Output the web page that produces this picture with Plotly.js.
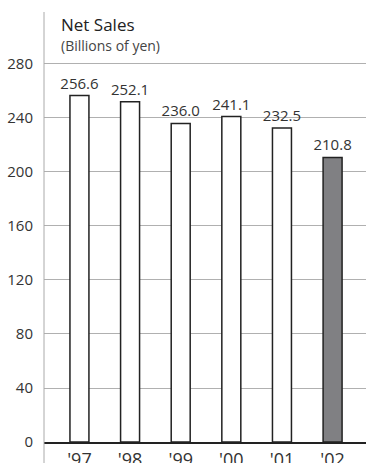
<!DOCTYPE html>
<html><head><meta charset="utf-8">
<script src="https://cdn.plot.ly/plotly-3.0.1.min.js"></script>
<style>html,body{margin:0;padding:0;background:#fff;}#c{width:366px;height:463px;}</style>
</head><body><div id="c"></div>
<script>
const years = ["'97", "'98", "'99", "'00", "'01", "'02"];
const netSales = [256.6, 252.1, 236.0, 241.1, 232.5, 210.8];
const valueLabels = ["256.6", "252.1", "236.0", "241.1", "232.5", "210.8"];
const yTicks = [0, 40, 80, 120, 160, 200, 240, 280];
const barColors = ["#ffffff", "#ffffff", "#ffffff", "#ffffff", "#ffffff", "#808083"];

const FONT = "Open Sans, Liberation Sans, sans-serif";
const trace = {
  type: 'bar',
  x: years.map((_, i) => i),
  y: netSales,
  width: 0.375,
  marker: {color: barColors, line: {color: '#222', width: 1.5}},
  text: valueLabels,
  textposition: 'outside',
  constraintext: 'none',
  textfont: {family: FONT, size: 15, color: '#333'},
  cliponaxis: false,
  hoverinfo: 'none'
};
const layout = {
  width: 366, height: 463,
  margin: {l: 44, r: 0, t: 12, b: 21, pad: 0},
  paper_bgcolor: '#fff', plot_bgcolor: '#fff',
  showlegend: false,
  font: {family: FONT, color: '#333'},
  xaxis: {
    range: [-0.70, 5.66], tickvals: years.map((_, i) => i), ticktext: years,
    showgrid: false, zeroline: false, showline: true, linecolor: '#222', linewidth: 1.5,
    ticks: '', ticklabelstandoff: 1, tickfont: {family: FONT, size: 18, color: '#333'}, fixedrange: true
  },
  yaxis: {
    range: [0, 318.5], tickvals: yTicks, ticktext: yTicks.map(String),
    showgrid: true, gridcolor: '#b0b0b0', gridwidth: 1,
    zeroline: false, showline: false, ticks: '', ticklabelstandoff: 10,
    tickfont: {family: FONT, size: 15, color: '#333'}, fixedrange: true
  },
  shapes: [
    {type: 'line', xref: 'paper', yref: 'paper', x0: 0, x1: 0, y0: -0.05, y1: 1,
     line: {color: '#aaa', width: 1}}
  ],
  annotations: [
    {xref: 'paper', yref: 'paper', x: 0.046, y: 0.970, xanchor: 'left', yanchor: 'middle',
     text: 'Net Sales', showarrow: false, font: {family: FONT, size: 17, color: '#222'}},
    {xref: 'paper', yref: 'paper', x: 0.046, y: 0.923, xanchor: 'left', yanchor: 'middle',
     text: '(Billions of yen)', showarrow: false, font: {family: FONT, size: 14, color: '#444'}}
  ]
};
Plotly.newPlot('c', [trace], layout, {staticPlot: true, displayModeBar: false});
</script></body></html>
